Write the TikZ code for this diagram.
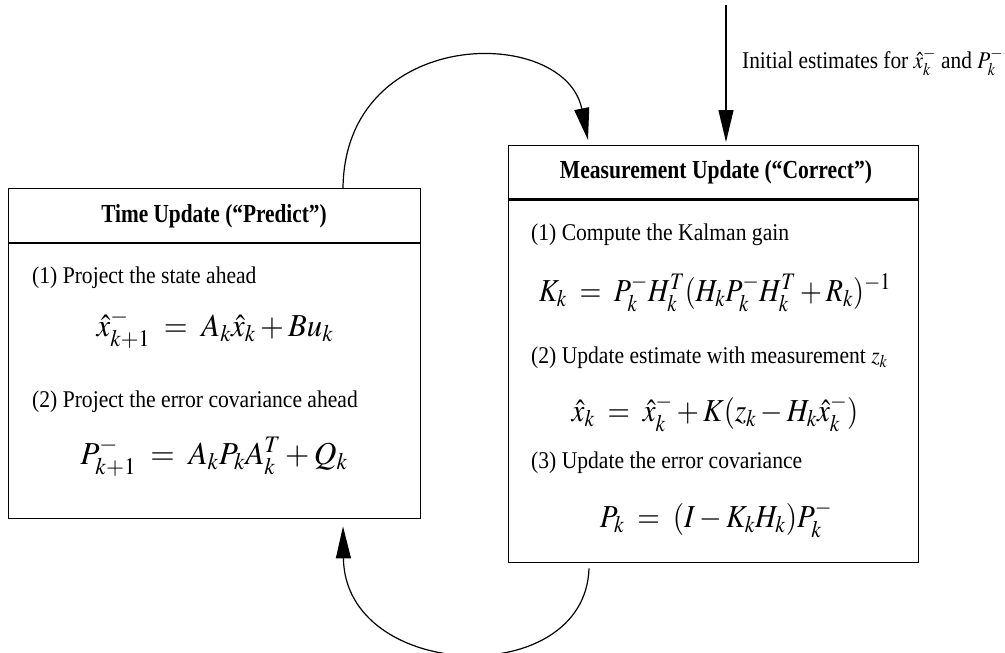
\documentclass[tikz,border=0pt]{standalone}
\usepackage{mathptmx}
\usepackage{fontspec}
\setmainfont{Liberation Serif}
\usepackage{graphicx}
\usetikzlibrary{arrows.meta}
\tikzset{
 box/.style={draw, line width=1.4pt, anchor=north west, inner sep=0pt},
 txt/.style={anchor=west, inner sep=0pt, font=\fontsize{24}{28}\selectfont},
 hdr/.style={inner sep=0pt, font=\fontsize{26}{30}\selectfont\bfseries},
 eq/.style={inner sep=0pt, font=\fontsize{32}{38}\selectfont},
 flow/.style={line width=1.2pt, -{Triangle[length=32pt,width=15pt]}},
}
\newcommand{\sx}[2]{\scalebox{#1}[1]{#2}}
\begin{document}
\begin{tikzpicture}[x=1pt,y=-1pt]
\useasboundingbox (0,0) rectangle (1005,653);
% boxes
\node[box, minimum width=412pt, minimum height=330pt] (tu) at (8,188) {};
\node[box, minimum width=410pt, minimum height=417pt] (mu) at (508,145) {};
\draw[line width=1.5pt] ([yshift=-55pt]tu.north west) -- ([yshift=-55pt]tu.north east);
\draw[line width=3pt] ([yshift=-54pt]mu.north west) -- ([yshift=-54pt]mu.north east);
% headers
\node[hdr] (tuh) at (214,216) {\sx{0.82}{Time Update (“Predict”)}};
\node[hdr] (muh) at (716,172) {\sx{0.83}{Measurement Update (“Correct”)}};
% left contents
\node[txt] (tu1) at (32,278) {\sx{0.9}{(1) Project the state ahead}};
\node[eq] (tue1) at (215,329) {\sx{0.96}{$\hat{x}^-_{k+1} \;=\; A_k\hat{x}_k + Bu_k$}};
\node[txt] (tu2) at (32,402) {\sx{0.9}{(2) Project the error covariance ahead}};
\node[eq] (tue2) at (214,457) {\sx{0.98}{$P^-_{k+1} \;=\; A_kP_kA_k^T + Q_k$}};
% right contents
\node[txt] (mu1) at (531,235) {\sx{0.9}{(1) Compute the Kalman gain}};
\node[eq] (mue1) at (715,293) {\sx{0.88}{$K_k \;=\; P^-_kH_k^T(H_kP^-_kH_k^T + R_k)^{-1}$}};
\node[txt] (mu2) at (531,358) {\sx{0.9}{(2) Update estimate with measurement $z_k$}};
\node[eq] (mue2) at (715,413) {\sx{0.9}{$\hat{x}_k \;=\; \hat{x}^-_k + K(z_k - H_k\hat{x}^-_k)$}};
\node[txt] (mu3) at (531,463) {\sx{0.9}{(3) Update the error covariance}};
\node[eq] (mue3) at (716,519) {\sx{0.91}{$P_k \;=\; (I - K_kH_k)P^-_k$}};
% initial estimate
\coordinate (init) at (726,5);
\node[txt] (lbl) at (742,62) {\sx{0.89}{Initial estimates for $\hat{x}^-_k$ and $P^-_k$}};
% connectors
\draw[flow, shorten >=3pt] (init) -- (init |- mu.north);
\draw[flow] ([xshift=335pt]tu.north west) .. controls +(2,-163) and +(-23,-115) .. ([xshift=80pt,yshift=5pt]mu.north west);
\draw[flow] ([xshift=81pt,yshift=-5pt]mu.south west) .. controls +(-4,123) and +(2,155) .. ([xshift=335pt,yshift=-7pt]tu.south west);
\end{tikzpicture}
\end{document}
